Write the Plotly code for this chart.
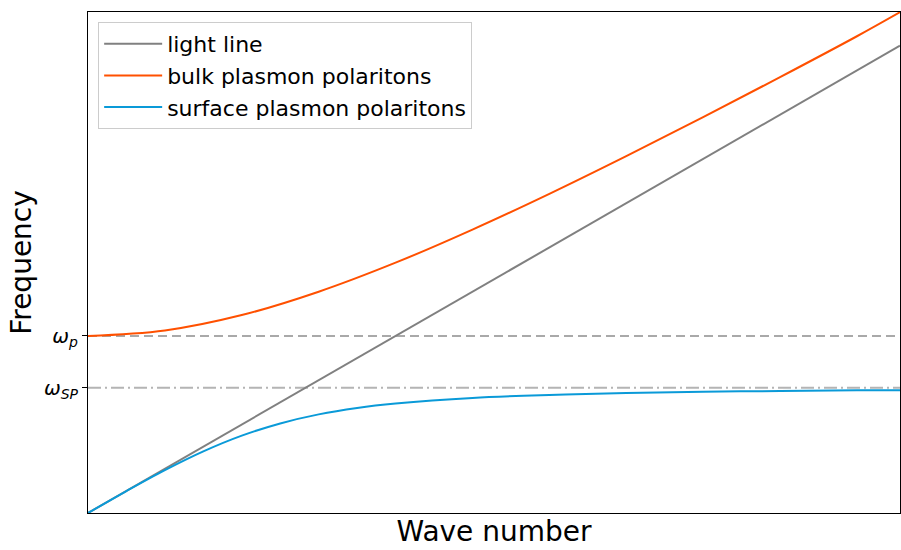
import plotly.graph_objects as go

# Wave number (in units of omega_p / c)
k_light = [0.0, 2.64]
w_light = [0.0, 2.64]

k_bulk = [0.0, 0.25, 0.5, 0.75, 1.0, 1.25, 1.5, 1.75, 2.0, 2.25, 2.5, 2.64]
w_bulk = [1.0, 1.031, 1.118, 1.25, 1.414, 1.601, 1.803, 2.016, 2.236, 2.462, 2.693, 2.829]

k_spp = [0.0, 0.125, 0.25, 0.375, 0.5, 0.625, 0.75, 0.875, 1.0, 1.25, 1.5, 1.75, 2.0, 2.25, 2.5, 2.64]
w_spp = [0.0, 0.124, 0.242, 0.348, 0.437, 0.506, 0.557, 0.593, 0.618, 0.650, 0.667, 0.678, 0.685, 0.689, 0.693, 0.694]

omega_p = 1.0
omega_sp = 0.707
x_range = [0.0, 2.64]
y_range = [0.0, 2.83]
tick_vals = [omega_sp, omega_p]
tick_text = ["<i>ω</i><sub><i>SP</i></sub>", "<i>ω</i><sub><i>p</i></sub>"]

fig = go.Figure()

# reference levels
fig.add_trace(go.Scatter(x=x_range, y=[omega_p, omega_p], mode="lines", showlegend=False,
                         line=dict(color="#a9a9a9", width=2, dash="9px,5px"), hoverinfo="skip"))
fig.add_trace(go.Scatter(x=x_range, y=[omega_sp, omega_sp], mode="lines", showlegend=False,
                         line=dict(color="#b4b4b4", width=2, dash="13px,4px,2px,4px"), hoverinfo="skip"))

fig.add_trace(go.Scatter(x=k_light, y=w_light, mode="lines", name="light line", legendgroup="a",
                         line=dict(color="#808080", width=2)))
fig.add_trace(go.Scatter(x=k_bulk, y=w_bulk, mode="lines", name="bulk plasmon polaritons", legendgroup="b",
                         line=dict(color="#ff5000", width=2, shape="spline")))
fig.add_trace(go.Scatter(x=k_spp, y=w_spp, mode="lines", name="surface plasmon polaritons", legendgroup="c",
                         line=dict(color="#0a9ad8", width=2, shape="spline")))

fig.update_layout(
    width=901, height=550,
    margin=dict(l=88, r=1, t=12, b=37),
    paper_bgcolor="white", plot_bgcolor="white",
    font=dict(family="DejaVu Sans", color="black"),
    legend=dict(x=0.0125, y=0.98, xanchor="left", yanchor="top",
                bordercolor="#cccccc", borderwidth=1, bgcolor="rgba(255,255,255,0.8)",
                font=dict(size=22), tracegroupgap=0, traceorder="grouped", itemwidth=58),
    xaxis=dict(range=x_range, showgrid=False, zeroline=False, showticklabels=False,
               ticks="", showline=True, linecolor="black", linewidth=1, mirror=True,
               title=dict(text="Wave number", font=dict(size=28), standoff=8)),
    yaxis=dict(range=y_range, showgrid=False, zeroline=False, tickvals=tick_vals, ticktext=tick_text,
               ticks="outside", ticklen=5, tickcolor="black", tickfont=dict(size=20),
               showline=True, linecolor="black", linewidth=1, mirror=True,
               title=dict(text="Frequency", font=dict(size=28), standoff=4)),
)

fig.write_html("out.html")
